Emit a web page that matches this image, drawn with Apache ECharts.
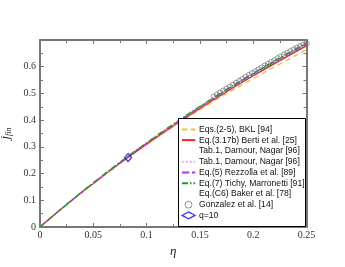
<!DOCTYPE html>
<html><head><meta charset="utf-8">
<script src="https://cdn.jsdelivr.net/npm/echarts@6/dist/echarts.min.js"></script>
<style>html,body{margin:0;padding:0;background:#fff}#c{width:345px;height:267px}</style>
</head><body><div id="c"></div>
<script>
const etaGrid = [0, 0.025, 0.05, 0.075, 0.1, 0.125, 0.15, 0.175, 0.2, 0.225, 0.25];
const bkl      = [0, 0.0840, 0.1635, 0.2390, 0.3100, 0.3770, 0.4400, 0.4995, 0.5560, 0.6100, 0.6640];
const berti    = [0, 0.0838, 0.1630, 0.2385, 0.3100, 0.3785, 0.4440, 0.5065, 0.5660, 0.6230, 0.6790];
const damourA  = [0, 0.0845, 0.1650, 0.2415, 0.3140, 0.3830, 0.4490, 0.5120, 0.5720, 0.6300, 0.6850];
const damourB  = [0, 0.0845, 0.1650, 0.2415, 0.3140, 0.3830, 0.4490, 0.5120, 0.5720, 0.6300, 0.6850];
const rezzolla = [0, 0.0844, 0.1647, 0.2411, 0.3138, 0.3831, 0.4492, 0.5123, 0.5727, 0.6307, 0.6864];
const tichy    = [0, 0.0848, 0.1655, 0.2425, 0.3155, 0.3850, 0.4515, 0.5150, 0.5755, 0.6335, 0.6890];
const baker    = [0, 0.0844, 0.1647, 0.2411, 0.3138, 0.3831, 0.4492, 0.5123, 0.5727, 0.6307, 0.6864];
const gonzEta  = [0.163, 0.166, 0.169, 0.172, 0.175, 0.178, 0.181, 0.184, 0.187, 0.190, 0.193, 0.196, 0.199, 0.202, 0.205, 0.208, 0.211, 0.214, 0.217, 0.220, 0.223, 0.226, 0.229, 0.232, 0.235, 0.238, 0.241, 0.244, 0.247, 0.250];
const gonzJ    = [0.4874, 0.4949, 0.5024, 0.5098, 0.5173, 0.5247, 0.5320, 0.5393, 0.5466, 0.5538, 0.5610, 0.5681, 0.5753, 0.5824, 0.5895, 0.5965, 0.6035, 0.6105, 0.6174, 0.6243, 0.6312, 0.6380, 0.6448, 0.6515, 0.6580, 0.6645, 0.6706, 0.6762, 0.6818, 0.6864];
const q10Eta = [0.0826];
const q10J   = [0.260];
const yTicks = [0, 0.1, 0.2, 0.3, 0.4, 0.5, 0.6];
const names = ['Eqs.(2-5), BKL [94]','Eq.(3.17b) Berti et al. [25]','Tab.1, Damour, Nagar [96]','Tab.1, Damour, Nagar [96] ','Eq.(5) Rezzolla et al. [89]','Eq.(7) Tichy, Marronetti [91]','Eq.(C6) Baker et al. [78]','Gonzalez et al. [14]','q=10'];

const pair = (xs, ys) => xs.map((x, i) => [x, ys[i]]);
const fmt = v => String(+v.toFixed(2));
const chart = echarts.init(document.getElementById('c'));
const axisCol = '#777';
const serif = 'Liberation Serif';
function lineS(name, ys, color, type, width, op) {
  return {name, type:'line', data: pair(etaGrid, ys), symbol:'none', smooth:true,
    lineStyle:{color, type, width, opacity: op}, itemStyle:{color, opacity: op}, z: 3};
}
function ax(extra) {
  return Object.assign({type:'value', splitLine:{show:false},
    axisLine:{onZero:false, lineStyle:{color:axisCol, width:2}},
    axisTick:{inside:true, length:4, lineStyle:{color:axisCol, width:1}},
    minorTick:{show:true, splitNumber:2, length:3, lineStyle:{color:axisCol}}}, extra);
}
chart.setOption({
  animation:false,
  grid:{left:40, top:40, right:38.5, bottom:40, outerBoundsMode:'none', containLabel:false},
  xAxis:[ax({min:0, max:0.25, interval:0.05, position:'bottom',
    name:'η', nameLocation:'middle', nameGap:14,
    nameTextStyle:{fontFamily:serif, fontStyle:'italic', fontSize:13, color:'#222'},
    axisLabel:{fontFamily:serif, fontSize:10, color:'#333', margin:3, formatter:fmt}}),
   ax({min:0, max:0.25, interval:0.05, position:'top', axisLabel:{show:false}})],
  yAxis:[ax({min:0, max:0.7, interval:0.1, position:'left',
    name:'{a|j}{b|fin}', nameLocation:'middle', nameGap:26, nameRotate:90,
    nameTextStyle:{rich:{a:{fontFamily:serif, fontStyle:'italic', fontSize:13, color:'#222'},
      b:{fontFamily:serif, fontStyle:'italic', fontSize:8, color:'#222', padding:[6,0,0,0]}}},
    axisLabel:{fontFamily:serif, fontSize:10, color:'#333', margin:4,
      formatter: v => yTicks.some(t => Math.abs(t - v) < 1e-9) ? fmt(v) : ''}}),
   ax({min:0, max:0.7, interval:0.1, position:'right', axisLabel:{show:false}})],
  graphic:[{type:'rect', shape:{x:178.5, y:118.5, width:127, height:108},
    style:{fill:'#fff', stroke:'#000', lineWidth:1}, z:5}],
  legend:{orient:'vertical', left:181, top:124, padding:0, itemGap:0,
    itemWidth:13, itemHeight:7, z:10,
    textStyle:{fontFamily:'Liberation Sans', fontSize:8.6, color:'#111', lineHeight:10.75, padding:[0,0,0,-1]},
    data: names.map((n, i) => i === 7 ? {name:n, icon:'circle', itemStyle:{color:'#fff', borderColor:'#555', borderWidth:0.8}}
      : i === 8 ? {name:n, icon:'diamond', itemStyle:{color:'#fff', borderColor:'#0000ff', borderWidth:1.2}}
      : {name:n, itemStyle:{opacity:0}})},
  series:[
    lineS(names[0], bkl, '#ffb833', [5,4], 1.3, 1),
    lineS(names[1], berti, '#ff2020', 'solid', 1.3, 1),
    lineS(names[2], damourA, '#ffffff', 'solid', 1, 0),
    lineS(names[3], damourB, '#dda0dd', [1.5,2.5], 1.3, 1),
    lineS(names[4], rezzolla, '#b030ff', [7,3], 1.3, 1),
    lineS(names[5], tichy, '#20a020', [6,2,1.5,2], 1.3, 1),
    lineS(names[6], baker, '#ffffff', 'solid', 1, 0),
    {name:names[7], type:'scatter', data: pair(gonzEta, gonzJ), symbol:'circle', symbolSize:5.5,
      itemStyle:{color:'rgba(255,255,255,0)', borderColor:'#666', borderWidth:0.8}, z:4},
    {name:names[8], type:'scatter', data: pair(q10Eta, q10J), symbol:'diamond', symbolSize:[7,8],
      itemStyle:{color:'rgba(255,255,255,0)', borderColor:'#0000ff', borderWidth:1.2}, z:4}
  ]
});
</script></body></html>
